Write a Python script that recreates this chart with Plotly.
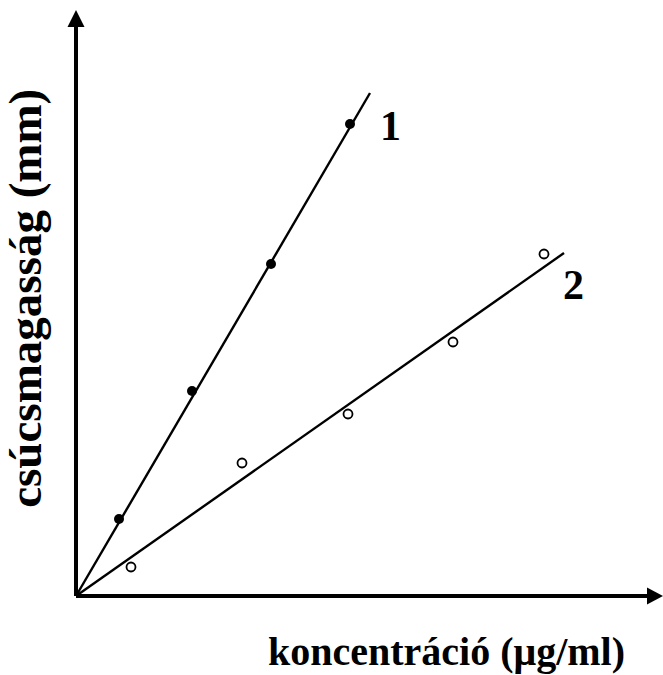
import plotly.graph_objects as go

# Series 1 (filled points) and its calibration line
s1_x = [0.86, 2.32, 3.90, 5.48]
s1_y = [1.54, 4.10, 6.64, 9.44]
fit1_x = [0.0, 5.88]
fit1_y = [0.0, 10.06]

# Series 2 (open points) and its calibration line
s2_x = [1.10, 3.32, 5.44, 7.54, 9.36]
s2_y = [0.58, 2.66, 3.64, 5.08, 6.84]
fit2_x = [0.0, 9.76]
fit2_y = [0.0, 6.86]

series_labels = ["1", "2"]
label_x = [6.28, 9.94]
label_y = [9.40, 6.22]

x_title = "koncentráció (μg/ml)"
y_title = "csúcsmagasság (mm)"

x_tip = 11.74
y_tip = 11.72

FONT = "Liberation Serif, Times New Roman, serif"

fig = go.Figure()
fig.add_trace(go.Scatter(x=fit1_x, y=fit1_y, mode="lines",
                         line=dict(color="black", width=2.4), hoverinfo="skip"))
fig.add_trace(go.Scatter(x=fit2_x, y=fit2_y, mode="lines",
                         line=dict(color="black", width=2.4), hoverinfo="skip"))
fig.add_trace(go.Scatter(x=s1_x, y=s1_y, mode="markers",
                         marker=dict(symbol="circle", size=10, color="black")))
fig.add_trace(go.Scatter(x=s2_x, y=s2_y, mode="markers",
                         marker=dict(symbol="circle-open", size=9, color="black",
                                     line=dict(width=1.8, color="black"))))

shapes = [
    dict(type="line", xref="x", yref="y", x0=0, y0=0, x1=x_tip - 0.2, y1=0,
         line=dict(color="black", width=4)),
    dict(type="line", xref="x", yref="y", x0=0, y0=0, x1=0, y1=y_tip - 0.2,
         line=dict(color="black", width=4)),
    dict(type="path", xref="x", yref="y", xsizemode="pixel", ysizemode="pixel",
         xanchor=x_tip, yanchor=0, path="M0,0 L-16,8.5 L-16,-8.5 Z",
         fillcolor="black", line=dict(color="black", width=0)),
    dict(type="path", xref="x", yref="y", xsizemode="pixel", ysizemode="pixel",
         xanchor=0, yanchor=y_tip, path="M0,0 L-8.5,-17 L8.5,-17 Z",
         fillcolor="black", line=dict(color="black", width=0)),
]

annotations = [
    dict(text=f"<b>{t}</b>", x=lx, y=ly, xref="x", yref="y", showarrow=False,
         font=dict(family=FONT, size=42, color="black"))
    for t, lx, ly in zip(series_labels, label_x, label_y)
]
annotations.append(dict(text=f"<b>{x_title}</b>", x=0.638, y=-0.0765, xref="paper", yref="paper",
                        showarrow=False, xanchor="center", yanchor="middle",
                        font=dict(family=FONT, size=40, color="black")))
annotations.append(dict(text=f"<b>{y_title}</b>", x=-0.069, y=0.5125, xref="paper", yref="paper",
                        showarrow=False, textangle=-90, xanchor="center", yanchor="middle",
                        font=dict(family=FONT, size=47, color="black")))

fig.update_layout(
    width=663, height=675,
    margin=dict(l=66, r=0, t=5, b=69),
    paper_bgcolor="white", plot_bgcolor="white",
    showlegend=False,
    xaxis=dict(range=[-0.2, x_tip], showgrid=False, zeroline=False, showline=False,
               showticklabels=False, ticks=""),
    yaxis=dict(range=[-0.2, 11.82], showgrid=False, zeroline=False, showline=False,
               showticklabels=False, ticks=""),
    shapes=shapes,
    annotations=annotations,
)

fig.write_html("out.html")
